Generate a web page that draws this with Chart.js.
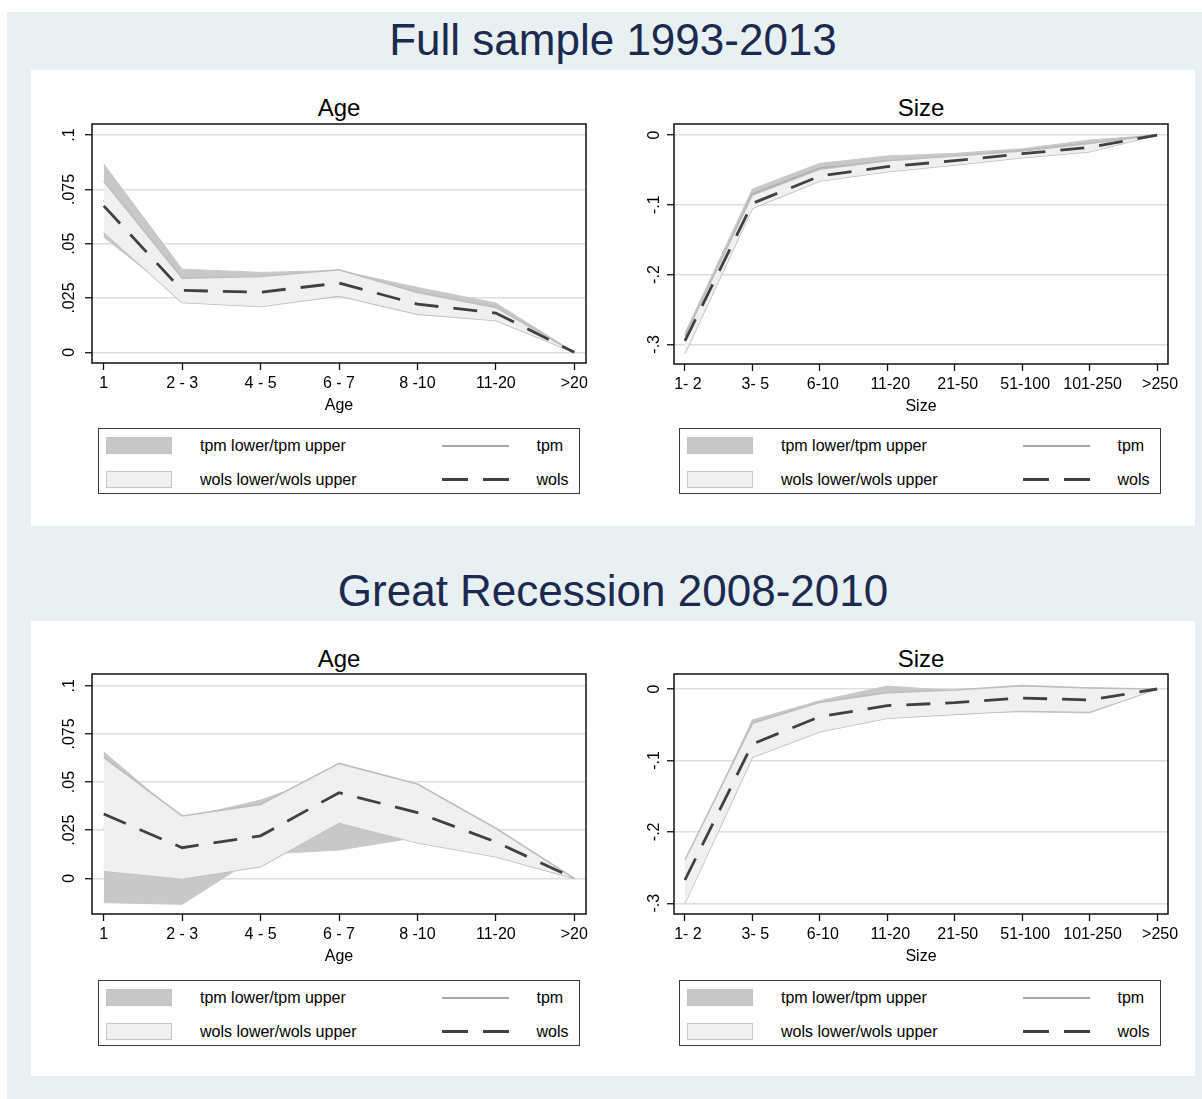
<!DOCTYPE html>
<html>
<head>
<meta charset="utf-8">
<script src="https://cdn.jsdelivr.net/npm/chart.js@4.4.1/dist/chart.umd.min.js"></script>
<style>
  html, body { margin:0; padding:0; }
  body { width:1202px; height:1099px; position:relative; overflow:hidden; background:#fff;
         font-family:"Liberation Sans", Arial, sans-serif; color:#000; }
  .abs { position:absolute; }
  .bg { left:7px; top:12px; width:1195px; height:1087px; background:#e8f0f2; }
  .panel { left:31px; width:1164px; background:#fff; }
  .main-title { width:800px; text-align:center; font-size:44px; line-height:56px; color:#1b2a4e; white-space:nowrap; }
  .sub-title { width:200px; text-align:center; font-size:24px; line-height:28px; color:#000; }
  .legend { border:1px solid #3a3a3a; background:#fff; box-sizing:border-box; }
  .leg-text { font-size:16px; line-height:20px; white-space:nowrap; color:#000; }
  canvas { position:absolute; }
</style>
</head>
<body>
<script>
// Categories
const ageLabels  = ['1', '2 - 3', '4 - 5', '6 - 7', '8 -10', '11-20', '>20'];
const sizeLabels = ['1- 2', '3- 5', '6-10', '11-20', '21-50', '51-100', '101-250', '>250'];

// Full sample 1993-2013 : Age
const ageFullTpmLo  = [0.0530, 0.0245, 0.0230, 0.0270, 0.0190, 0.0155, 0];
const ageFullTpmHi  = [0.0867, 0.0383, 0.0368, 0.0377, 0.0299, 0.0227, 0];
const ageFullTpm    = [0.0700, 0.0310, 0.0300, 0.0320, 0.0240, 0.0190, 0];
const ageFullWolsLo = [0.0553, 0.0230, 0.0211, 0.0260, 0.0176, 0.0147, 0];
const ageFullWolsHi = [0.0789, 0.0341, 0.0349, 0.0380, 0.0276, 0.0207, 0];
const ageFullWols   = [0.0674, 0.0285, 0.0277, 0.0319, 0.0222, 0.0181, 0];

// Full sample 1993-2013 : Size
const sizeFullTpmLo  = [-0.305, -0.092, -0.056, -0.045, -0.036, -0.027, -0.016, 0];
const sizeFullTpmHi  = [-0.284, -0.0774, -0.0406, -0.030, -0.0263, -0.0196, -0.0072, 0];
const sizeFullTpm    = [-0.294, -0.085, -0.048, -0.038, -0.031, -0.023, -0.012, 0];
const sizeFullWolsLo = [-0.313, -0.105, -0.066, -0.0525, -0.043, -0.0325, -0.0239, 0];
const sizeFullWolsHi = [-0.288, -0.086, -0.049, -0.0368, -0.030, -0.023, -0.012, 0];
const sizeFullWols   = [-0.2952, -0.098, -0.0588, -0.0454, -0.0368, -0.0268, -0.0177, 0];

// Great Recession 2008-2010 : Age
const ageRecTpmLo  = [-0.0126, -0.0135, 0.0125, 0.0147, 0.0213, 0.0130, 0];
const ageRecTpmHi  = [0.0657, 0.0310, 0.0407, 0.0550, 0.0450, 0.0250, 0];
const ageRecTpm    = [0.0265, 0.0090, 0.0265, 0.0350, 0.0330, 0.0190, 0];
const ageRecWolsLo = [0.0038, -0.0002, 0.0061, 0.0289, 0.0185, 0.0112, 0];
const ageRecWolsHi = [0.0628, 0.0324, 0.0384, 0.0597, 0.0490, 0.0260, 0];
const ageRecWols   = [0.0334, 0.0159, 0.0221, 0.0445, 0.0341, 0.0189, 0];

// Great Recession 2008-2010 : Size
const sizeRecTpmLo  = [-0.290, -0.090, -0.055, -0.038, -0.033, -0.032, -0.0335, 0];
const sizeRecTpmHi  = [-0.245, -0.0434, -0.0163, 0.0042, -0.0023, 0.0020, 0.0015, 0];
const sizeRecTpm    = [-0.268, -0.067, -0.035, -0.017, -0.017, -0.015, -0.016, 0];
const sizeRecWolsLo = [-0.300, -0.0957, -0.0597, -0.041, -0.0355, -0.0303, -0.0317, 0];
const sizeRecWolsHi = [-0.2394, -0.048, -0.0187, -0.0051, -0.0014, 0.0047, 0.0014, 0];
const sizeRecWols   = [-0.2674, -0.077, -0.0387, -0.0233, -0.0191, -0.0126, -0.0154, 0];

// Helpers
const FONT = '"Liberation Sans", Arial, sans-serif';
Chart.defaults.font.family = FONT;
Chart.defaults.color = '#000';

const toXY = (arr) => arr.map((y, x) => ({x, y}));
const fmtY = (v) => Math.abs(v) < 1e-9 ? '0' : String(+v.toFixed(3)).replace('0.', '.');

function addDiv(parent, cls, css, text){
  const d = document.createElement('div');
  d.className = 'abs ' + (cls || '');
  Object.assign(d.style, css);
  if (text) d.textContent = text;
  parent.appendChild(d);
  return d;
}

// black outline round the plot region
const framePlugin = {
  id: 'frame',
  afterDatasetsDraw(chart){
    const {ctx, chartArea: a} = chart;
    ctx.save();
    ctx.strokeStyle = '#111';
    ctx.lineWidth = 1.5;
    ctx.strokeRect(a.left, a.top, a.right - a.left, a.bottom - a.top);
    ctx.restore();
  }
};

// one sub-graph; left/top/right/bottom = plot region in page pixels
function drawPanel(p){
  const yW = p.yW, TOP = 34, RIGHT = 30, XH = 57;
  const cl = p.left - yW, ct = p.top - TOP;
  const cv = document.createElement('canvas');
  cv.width = p.right - cl + RIGHT;
  cv.height = p.bottom - ct + XH;
  cv.style.left = cl + 'px';
  cv.style.top = ct + 'px';
  document.body.appendChild(cv);

  const n = p.labels.length;
  new Chart(cv, {
    type: 'line',
    data: { datasets: [
      { label: 'wols', data: toXY(p.wols), order: 1, borderColor: '#404040', borderWidth: 2.8, borderDash: [24, 15], fill: false },
      { label: 'wols upper', data: toXY(p.wolsHi), order: 2, borderColor: '#bebebe', borderWidth: 1.6, backgroundColor: '#f0f0f0', fill: 2 },
      { label: 'wols lower', data: toXY(p.wolsLo), order: 3, borderColor: '#bebebe', borderWidth: 1.6, fill: false },
      { label: 'tpm', data: toXY(p.tpm), order: 4, borderColor: '#a8a8a8', borderWidth: 2, fill: false },
      { label: 'tpm upper', data: toXY(p.tpmHi), order: 5, borderColor: '#c8c8c8', borderWidth: 1, backgroundColor: '#c8c8c8', fill: 5 },
      { label: 'tpm lower', data: toXY(p.tpmLo), order: 6, borderColor: '#c8c8c8', borderWidth: 1, fill: false }
    ]},
    options: {
      responsive: false, animation: false, devicePixelRatio: 1,
      layout: { padding: { top: TOP, right: RIGHT, left: 0, bottom: 0 } },
      elements: { point: { radius: 0 }, line: { tension: 0 } },
      plugins: { legend: { display: false }, tooltip: { enabled: false }, title: { display: false } },
      scales: {
        x: {
          type: 'linear', min: -p.xOff, max: n - 1 + p.xOff,
          afterBuildTicks: (s) => { s.min = -p.xOff; s.max = n - 1 + p.xOff; },
          afterFit: (s) => { s.height = XH; },
          border: { display: false },
          grid: { drawOnChartArea: false, drawTicks: true, tickLength: 7, tickColor: '#111', tickWidth: 1.3 },
          ticks: { stepSize: 1, includeBounds: false, autoSkip: false, maxRotation: 0, minRotation: 0,
                   padding: 4.4, labelOffset: p.xShift, font: { size: 16 }, color: '#000',
                   callback: (v) => p.labels[Math.round(v)] ?? '' },
          title: { display: true, text: p.xTitle, font: { size: 16 }, color: '#000', padding: { top: 0, bottom: 4.9 } }
        },
        y: {
          type: 'linear', min: p.yMin, max: p.yMax,
          afterBuildTicks: (s) => { s.min = p.yMin; s.max = p.yMax; },
          afterFit: (s) => { s.width = yW; },
          border: { display: false },
          grid: { color: '#dedede', lineWidth: 1.5, tickLength: 7, tickColor: '#111', tickWidth: 1.3 },
          ticks: { stepSize: p.yStep, includeBounds: false, minRotation: 90, maxRotation: 90,
                   crossAlign: 'center', padding: p.yPad, font: { size: 16 }, color: '#000',
                   callback: fmtY }
        }
      }
    },
    plugins: [framePlugin]
  });
}

function addLegend(x, y){
  const box = addDiv(document.body, 'legend', { left: x + 'px', top: y + 'px', width: '482px', height: '66px' });
  const rows = [
    { fill: '#c8c8c8', edge: '#c4c4c4', text: 'tpm lower/tpm upper', dash: false, key: 'tpm' },
    { fill: '#f0f0f0', edge: '#c6c6c6', text: 'wols lower/wols upper', dash: true, key: 'wols' }
  ];
  rows.forEach((r, i) => {
    const cy = 16.5 + i * 34;
    addDiv(box, '', { left: '7px', top: (cy - 8.5) + 'px', width: '66px', height: '17px',
                      background: r.fill, border: '1px solid ' + r.edge, boxSizing: 'border-box' });
    addDiv(box, 'leg-text', { left: '101px', top: (cy - 10) + 'px' }, r.text);
    const ln = addDiv(box, '', { left: '343px', width: '67px' });
    if (r.dash){
      Object.assign(ln.style, { top: (cy - 1.5) + 'px', height: '3px',
        background: 'linear-gradient(to right, #404040 0 26px, transparent 26px 41px, #404040 41px 67px)' });
    } else {
      Object.assign(ln.style, { top: (cy - 1) + 'px', height: '2px', background: '#a8a8a8' });
    }
    addDiv(box, 'leg-text', { left: '437.5px', top: (cy - 10) + 'px' }, r.key);
  });
}

// Page frame
addDiv(document.body, 'bg', {});
addDiv(document.body, 'panel', { top: '70px', height: '456px' });
addDiv(document.body, 'panel', { top: '621px', height: '455px' });
addDiv(document.body, 'main-title', { left: (613 - 400) + 'px', top: (40 - 28) + 'px' }, 'Full sample 1993-2013');
addDiv(document.body, 'main-title', { left: (613 - 400) + 'px', top: (591 - 28) + 'px' }, 'Great Recession 2008-2010');
addDiv(document.body, 'sub-title', { left: (339 - 100) + 'px', top: (108 - 14) + 'px' }, 'Age');
addDiv(document.body, 'sub-title', { left: (921 - 100) + 'px', top: (108 - 14) + 'px' }, 'Size');
addDiv(document.body, 'sub-title', { left: (339 - 100) + 'px', top: (659 - 14) + 'px' }, 'Age');
addDiv(document.body, 'sub-title', { left: (921 - 100) + 'px', top: (659 - 14) + 'px' }, 'Size');

// Sub-graphs
drawPanel({ left: 92, top: 124, right: 586, bottom: 363, yW: 48, yPad: -0.1, xShift: 0,
  labels: ageLabels, xOff: 0.15, xTitle: 'Age', yMin: -0.0049, yMax: 0.1051, yStep: 0.025,
  tpmLo: ageFullTpmLo, tpmHi: ageFullTpmHi, tpm: ageFullTpm,
  wolsLo: ageFullWolsLo, wolsHi: ageFullWolsHi, wols: ageFullWols });
drawPanel({ left: 674, top: 124, right: 1168, bottom: 364, yW: 49, yPad: 2.7, xShift: 3,
  labels: sizeLabels, xOff: 0.162, xTitle: 'Size', yMin: -0.3282, yMax: 0.0158, yStep: 0.1,
  tpmLo: sizeFullTpmLo, tpmHi: sizeFullTpmHi, tpm: sizeFullTpm,
  wolsLo: sizeFullWolsLo, wolsHi: sizeFullWolsHi, wols: sizeFullWols });
drawPanel({ left: 92, top: 674, right: 586, bottom: 914, yW: 48, yPad: -0.1, xShift: 0,
  labels: ageLabels, xOff: 0.15, xTitle: 'Age', yMin: -0.0185, yMax: 0.1061, yStep: 0.025,
  tpmLo: ageRecTpmLo, tpmHi: ageRecTpmHi, tpm: ageRecTpm,
  wolsLo: ageRecWolsLo, wolsHi: ageRecWolsHi, wols: ageRecWols });
drawPanel({ left: 674, top: 674, right: 1168, bottom: 914, yW: 49, yPad: 2.7, xShift: 3,
  labels: sizeLabels, xOff: 0.162, xTitle: 'Size', yMin: -0.315, yMax: 0.021, yStep: 0.1,
  tpmLo: sizeRecTpmLo, tpmHi: sizeRecTpmHi, tpm: sizeRecTpm,
  wolsLo: sizeRecWolsLo, wolsHi: sizeRecWolsHi, wols: sizeRecWols });

// Legends
addLegend(98, 428);
addLegend(679, 428);
addLegend(98, 980);
addLegend(679, 980);
</script>
</body>
</html>
